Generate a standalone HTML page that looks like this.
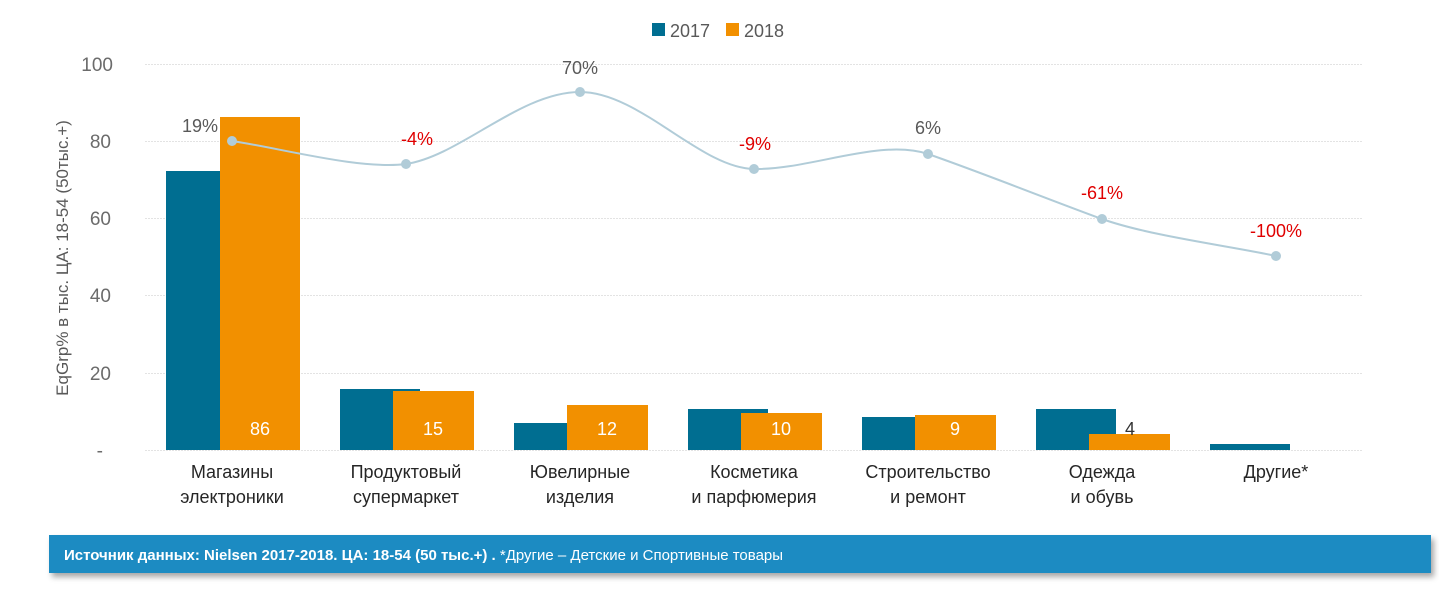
<!DOCTYPE html>
<html><head><meta charset="utf-8"><style>
body{margin:0;background:#fff;}
svg{display:block;font-family:"Liberation Sans","DejaVu Sans",sans-serif;}
</style></head><body>
<svg width="1439" height="590" viewBox="0 0 1439 590">
<defs><filter id="sh" x="-5%" y="-50%" width="110%" height="200%"><feDropShadow dx="3" dy="4" stdDeviation="3" flood-color="#000" flood-opacity="0.35"/></filter></defs>
<rect x="652" y="23" width="13" height="13" fill="#006e91"/><text x="670" y="37" font-size="18" fill="#595959">2017</text>
<rect x="726" y="23" width="13" height="13" fill="#f29000"/><text x="744" y="37" font-size="18" fill="#595959">2018</text>
<g stroke="#e3e3e3" stroke-width="1" stroke-dasharray="2,1">
<line x1="145" x2="1362" y1="64.5" y2="64.5"/><line x1="145" x2="1362" y1="141.5" y2="141.5"/><line x1="145" x2="1362" y1="218.5" y2="218.5"/><line x1="145" x2="1362" y1="295.5" y2="295.5"/><line x1="145" x2="1362" y1="373.5" y2="373.5"/><line x1="145" x2="1362" y1="450.5" y2="450.5"/>
</g>
<g font-size="19" fill="#6b6b6b" text-anchor="end">
<text x="113" y="71">100</text><text x="111" y="148">80</text><text x="111" y="225">60</text><text x="111" y="302">40</text><text x="111" y="380">20</text><text x="103" y="457">-</text>
</g>
<text transform="translate(68,258) rotate(-90)" font-size="17" fill="#595959" text-anchor="middle">EqGrp% в тыс. ЦА: 18-54 (50тыс.+)</text>
<g fill="#006e91">
<rect x="166" y="171" width="80" height="279"/>
<rect x="340" y="389" width="80" height="61"/>
<rect x="514" y="423" width="80" height="27"/>
<rect x="688" y="409" width="80" height="41"/>
<rect x="862" y="417" width="80" height="33"/>
<rect x="1036" y="409" width="80" height="41"/>
<rect x="1210" y="444" width="80" height="6"/>
</g>
<g fill="#f29000">
<rect x="220" y="117" width="80" height="333"/>
<rect x="393" y="391" width="81" height="59"/>
<rect x="567" y="405" width="81" height="45"/>
<rect x="741" y="413" width="81" height="37"/>
<rect x="915" y="415" width="81" height="35"/>
<rect x="1089" y="434" width="81" height="16"/>
</g>
<g font-size="18" fill="#fff" text-anchor="middle">
<text x="260" y="435">86</text><text x="433" y="435">15</text><text x="607" y="435">12</text><text x="781" y="435">10</text><text x="955" y="435">9</text>
</g>
<text x="1130" y="435" font-size="18" fill="#333" text-anchor="middle">4</text>
<path d="M232,141 C280,148 360,170 406,164 C460,156 520,92 580,92 C640,92 700,168 754,169 C810,170 880,138 928,154 C980,172 1050,200 1102,219 C1150,236 1230,246 1276,256" fill="none" stroke="#b1ccd8" stroke-width="2"/>
<g fill="#b1ccd8">
<circle cx="232" cy="141" r="5"/><circle cx="406" cy="164" r="5"/><circle cx="580" cy="92" r="5"/><circle cx="754" cy="169" r="5"/><circle cx="928" cy="154" r="5"/><circle cx="1102" cy="219" r="5"/><circle cx="1276" cy="256" r="5"/>
</g>
<g font-size="18" text-anchor="middle">
<text x="200" y="132" fill="#595959">19%</text>
<text x="417" y="145" fill="#e00000">-4%</text>
<text x="580" y="74" fill="#595959">70%</text>
<text x="755" y="150" fill="#e00000">-9%</text>
<text x="928" y="134" fill="#595959">6%</text>
<text x="1102" y="199" fill="#e00000">-61%</text>
<text x="1276" y="237" fill="#e00000">-100%</text>
</g>
<g font-size="18" fill="#262626" text-anchor="middle">
<text x="232" y="478">Магазины</text><text x="232" y="503">электроники</text>
<text x="406" y="478">Продуктовый</text><text x="406" y="503">супермаркет</text>
<text x="580" y="478">Ювелирные</text><text x="580" y="503">изделия</text>
<text x="754" y="478">Косметика</text><text x="754" y="503">и парфюмерия</text>
<text x="928" y="478">Строительство</text><text x="928" y="503">и ремонт</text>
<text x="1102" y="478">Одежда</text><text x="1102" y="503">и обувь</text>
<text x="1276" y="478">Другие*</text>
</g>
<rect x="49" y="535" width="1382" height="38" fill="#1b8bc2" filter="url(#sh)"/>
<text x="64" y="560" font-size="15" fill="#fff"><tspan font-weight="bold">Источник данных: Nielsen 2017-2018. ЦА: 18-54 (50 тыс.+) .</tspan> *Другие – Детские и Спортивные товары</text>
</svg>
</body></html>
